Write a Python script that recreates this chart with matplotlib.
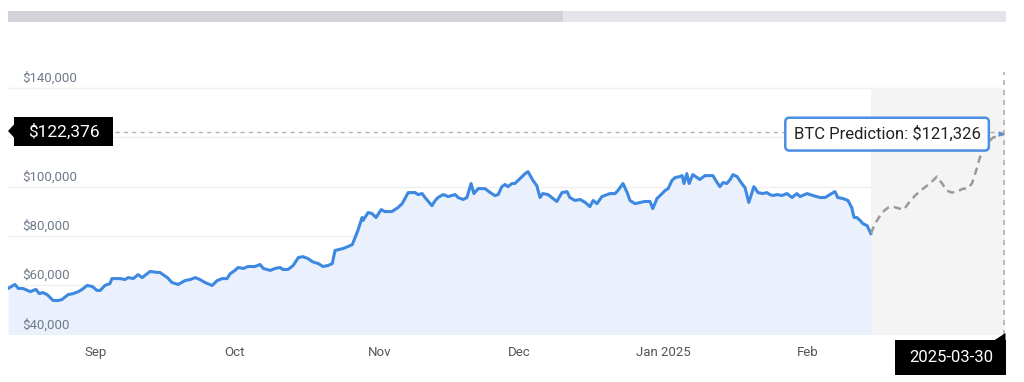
import pandas as pd
import matplotlib.pyplot as plt
from matplotlib.patches import Rectangle, Polygon
from matplotlib.transforms import blended_transform_factory

plt.rcParams["font.family"] = ["Roboto", "DejaVu Sans"]

# days counted from 2024-09-01
base_date = pd.Timestamp("2024-09-01")
hist_day = [
    -18.7, -17.2, -16.5, -15.5, -13.9, -12.7, -12.0, -11.2, -10.3, -9.0,
    -7.9, -7.1, -5.8, -4.7, -3.6, -2.8, -1.7, -0.6, 0.4, 1.1,
    2.1, 3.2, 3.6, 5.4, 6.4, 7.1, 8.2, 9.2, 10.1, 11.2,
    11.8, 13.3, 13.9, 15.5, 16.5, 17.8, 19.3, 20.4, 21.5, 22.5,
    23.6, 25.1, 26.2, 27.3, 28.3, 29.0, 30.0, 30.7, 31.8, 32.8,
    34.3, 35.4, 36.1, 37.6, 38.6, 39.7, 40.3, 41.4, 42.5, 43.6,
    44.6, 45.7, 46.6, 47.2, 47.9, 48.9, 50.0, 50.9, 51.5, 53.2,
    54.3, 55.2, 55.8, 56.4, 57.3, 57.5, 58.6, 59.4, 60.3, 61.4,
    62.2, 63.7, 65.0, 65.9, 67.2, 68.7, 69.3, 70.2, 70.8, 72.3,
    73.0, 73.6, 74.7, 75.8, 77.3, 77.9, 79.0, 79.8, 80.7, 81.3,
    82.2, 83.7, 84.8, 85.8, 86.5, 87.3, 88.0, 88.6, 89.5, 90.1,
    91.2, 92.3, 92.9, 94.0, 94.8, 95.5, 96.1, 97.2, 98.3, 99.1,
    100.2, 101.3, 101.9, 103.0, 104.1, 105.2, 106.2, 106.9, 107.7, 108.8,
    109.9, 110.5, 111.6, 112.2, 113.3, 114.2, 114.8, 115.9, 117.0, 118.0,
    119.1, 119.7, 120.6, 121.7, 122.3, 123.0, 123.8, 124.5, 125.5, 126.0,
    126.4, 127.0, 127.5, 128.3, 129.2, 129.8, 130.9, 132.6, 133.5, 134.1,
    134.8, 135.6, 136.3, 136.9, 137.8, 138.8, 139.5, 140.3, 141.4, 142.3,
    143.3, 144.2, 144.8, 145.5, 146.4, 147.4, 148.5, 149.6, 150.6, 151.3,
    152.8, 154.1, 155.6, 156.7, 157.7, 158.8, 159.4, 160.5, 161.6, 162.4,
    162.9, 163.5, 164.2, 164.8, 165.7, 166.5,
]
hist_price = [
    58700, 60300, 58700, 58700, 57400, 58300, 56600, 57000, 56200, 53800,
    53800, 54200, 56200, 56600, 57400, 58300, 59900, 59500, 57900, 57900,
    59900, 60700, 62700, 62700, 62300, 63100, 62700, 64300, 63100, 64700,
    65600, 65200, 65200, 63100, 61100, 60300, 61900, 62300, 63100, 62300,
    61100, 59900, 61900, 62700, 62700, 64700, 66000, 67200, 66800, 67600,
    67600, 68400, 66800, 66000, 66800, 67200, 66400, 66400, 68000, 71200,
    71600, 70800, 69600, 69200, 68800, 67600, 68000, 68800, 74100, 74900,
    75700, 76500, 79400, 82200, 87500, 86300, 89500, 89100, 87500, 90700,
    89900, 89900, 91500, 93100, 97600, 97600, 96800, 97200, 95600, 92300,
    94400, 95600, 96800, 96000, 96800, 95600, 94800, 95600, 101300, 97200,
    99200, 99200, 97600, 96400, 96800, 100000, 100900, 100000, 101300, 101300,
    103300, 105300, 106100, 102500, 100400, 95600, 97200, 96800, 95200, 94000,
    97600, 98000, 95600, 94400, 94800, 93600, 91900, 94400, 93100, 96000,
    96800, 97200, 97200, 98400, 101300, 97600, 94400, 93100, 93600, 94000,
    94000, 91100, 95200, 97200, 98400, 99200, 102500, 103700, 104100, 104500,
    101300, 105300, 101300, 104900, 103700, 102900, 104500, 104500, 101700, 100000,
    101700, 101300, 102900, 104900, 104100, 101300, 99600, 93600, 100000, 97600,
    97200, 97600, 96800, 96400, 96800, 96400, 97200, 95600, 97200, 96000,
    97200, 96400, 95600, 95600, 96800, 98000, 95600, 95200, 94400, 91500,
    87500, 87500, 86300, 85000, 84200, 81000,
]
pred_day = [
    166.5, 167.4, 168.9, 170.2, 171.2, 172.7, 173.6, 174.5, 176.0, 177.7,
    179.2, 180.7, 181.8, 182.8, 183.9, 185.0, 186.3, 187.3, 188.2, 189.1,
    189.9, 191.4, 192.7, 195.1,
]
pred_price = [
    81000, 85000, 89500, 91500, 91900, 91100, 90700, 93100, 96400, 99200,
    101300, 104100, 101300, 98400, 97600, 98000, 99200, 99200, 101300, 106500,
    111800, 117500, 119900, 121326,
]
y_ticks = [40000, 60000, 80000, 100000, 120000, 140000]
y_labelled = [40000, 60000, 80000, 100000, 140000]
month_starts = ["2024-09-01", "2024-10-01", "2024-11-01", "2024-12-01", "2025-01-01", "2025-02-01"]
month_labels = ["Sep", "Oct", "Nov", "Dec", "Jan 2025", "Feb"]
marker_price = 122376
pred_label = "BTC Prediction: $121,326"
pred_date = "2025-03-30"

line_blue = "#3d88e0"
fill_blue = "#eaf1fc"
tick_gray = "#6f7a8a"
W, H = 1024, 382


def fx(px):
    return px / W


def fy(py):
    return 1 - py / H


fig = plt.figure(figsize=(10.24, 3.82), dpi=100)
ax = fig.add_axes([fx(8), 47.5 / H, 997 / W, 271 / H])
ax.set_xlim(-18.7, 195.3)
ax.set_ylim(40000, 150000)
for s in ax.spines.values():
    s.set_visible(False)
ax.set_xticks([])
ax.set_yticks([])

# scrollbar on top
fig.patches.append(Rectangle((fx(8), fy(22)), 998 / W, 11 / H,
                             transform=fig.transFigure, fc="#e4e4ea", ec="none"))
fig.patches.append(Rectangle((fx(8), fy(22)), 555 / W, 11 / H,
                             transform=fig.transFigure, fc="#d2d3d8", ec="none"))

# grid + y labels
ytr = blended_transform_factory(ax.transAxes, ax.transData)
for v in y_ticks:
    ax.axhline(v, color="#efefef", lw=1, zorder=0)
for v in y_labelled:
    ax.annotate(f"${v:,.0f}", xy=(14 / 997, v), xycoords=ytr, xytext=(0, 7),
                textcoords="offset points", va="center", ha="left",
                fontsize=9.5, color=tick_gray, zorder=4, annotation_clip=False)

# month labels
for d, lab in zip(month_starts, month_labels):
    x = (pd.Timestamp(d) - base_date).days
    ax.annotate(lab, xy=(x, 0), xycoords=("data", "axes fraction"), xytext=(0, -13),
                textcoords="offset points", ha="center", va="center",
                fontsize=9.5, color="#555555", annotation_clip=False)

# prediction zone
ax.fill_between([hist_day[-1], ax.get_xlim()[1]], 40000, 140000,
                color="#f4f4f4", zorder=0.5, lw=0)

ax.fill_between(hist_day, hist_price, 40000, color=fill_blue, zorder=1, lw=0)
ax.plot(hist_day, hist_price, color=line_blue, lw=2.2, zorder=3)
ax.plot(pred_day, pred_price, color="#9a9a9a", lw=1.8, ls=(0, (3, 2)), zorder=3)

# crosshair lines
ax.axhline(marker_price, xmin=107 / 997, xmax=1, color="#b0b0b0", lw=1,
           ls=(0, (3, 3)), zorder=2)
ax.axvline(pred_day[-1], ymax=0.97, color="#b0b0b0", lw=1.2, ls=(0, (3, 3)), zorder=2)

# black price marker
fig.patches.append(Rectangle((fx(14), fy(146)), 99 / W, 29 / H,
                             transform=fig.transFigure, fc="black", ec="none"))
fig.patches.append(Polygon([(fx(8), fy(131)), (fx(14.5), fy(124)), (fx(14.5), fy(138))],
                           closed=True, transform=fig.transFigure, fc="black", ec="none"))
fig.text(fx(63.5), fy(131.5), f"${marker_price:,}", ha="center", va="center",
         fontsize=12.5, color="white")

# date marker
fig.patches.append(Rectangle((fx(895), fy(375)), 111 / W, 35 / H,
                             transform=fig.transFigure, fc="black", ec="none"))
fig.patches.append(Polygon([(fx(994), fy(340.5)), (fx(1005.5), fy(333)), (fx(1005.5), fy(340.5))],
                           closed=True, transform=fig.transFigure, fc="black", ec="none"))
fig.text(fx(951), fy(357.5), pred_date, ha="center", va="center",
         fontsize=12, color="white")

# prediction tooltip
ax.annotate(pred_label, xy=(pred_day[-1], pred_price[-1]), xytext=(-117, 0),
            textcoords="offset pixels", ha="center", va="center",
            fontsize=12, color="#222222", zorder=7,
            bbox=dict(boxstyle="round,pad=0.5,rounding_size=0.25", fc="white",
                      ec="#4a8fe2", lw=1.8))
ax.annotate("", xy=(pred_day[-1], pred_price[-1]), xytext=(-5, 0),
            textcoords="offset pixels", zorder=8,
            arrowprops=dict(arrowstyle="-|>", color="#4a8fe2", lw=0, mutation_scale=10))

fig.savefig("out.png", dpi=100)
